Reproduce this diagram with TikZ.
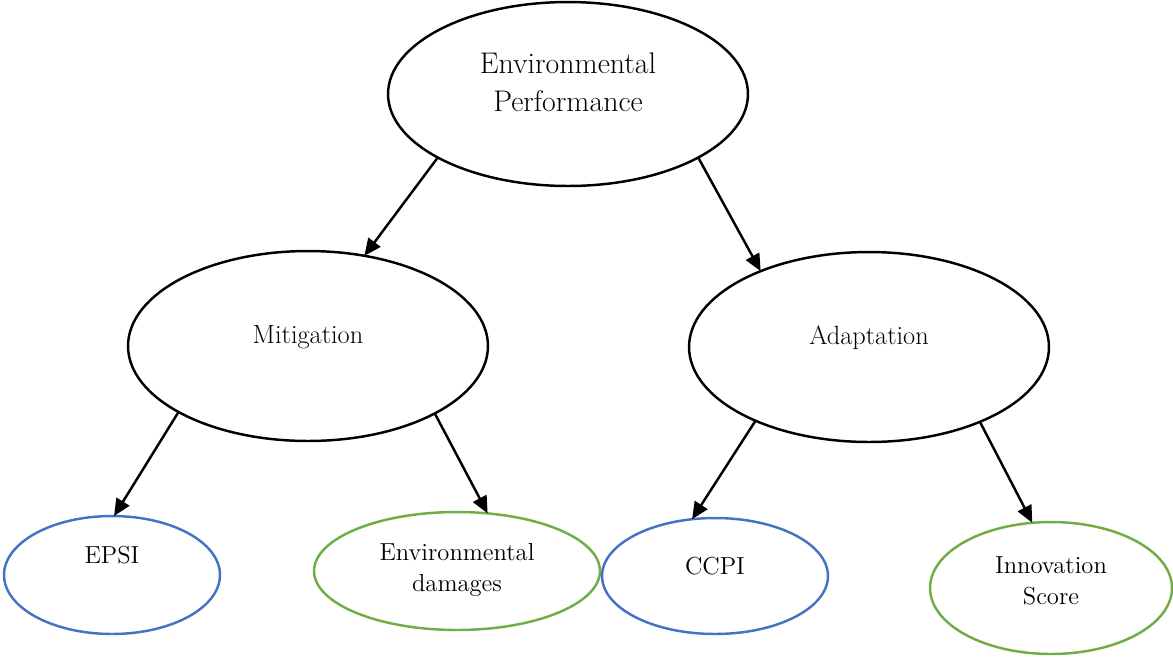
\documentclass[tikz,border=0pt]{standalone}
\usetikzlibrary{shapes.geometric,arrows.meta}
\definecolor{ovalblue}{HTML}{4472C4}
\definecolor{ovalgreen}{HTML}{70AD47}
\begin{document}
\begin{tikzpicture}[x=0.02cm,y=-0.02cm,
  oval/.style={ellipse,draw,line width=1.4pt,inner sep=0pt,outer sep=0pt},
  link/.style={-{Triangle[length=0.34cm,width=0.3cm]},line width=1.4pt}]
\useasboundingbox (0,0) rectangle (1173,657);
% Top
\node (perf) at (568,94) [oval,minimum width=7.2cm,minimum height=3.68cm] {};
\node (perftxt) at (568,82) [align=center,font=\fontsize{17}{21.5}\selectfont] {Environmental\\Performance};
% Middle
\node (miti) at (308,346) [oval,minimum width=7.2cm,minimum height=3.8cm] {};
\node (mititxt) at (308,337) [font=\fontsize{15}{18}\selectfont] {Mitigation};
\node (adap) at (869,347) [oval,minimum width=7.2cm,minimum height=3.8cm] {};
\node (adaptxt) at (869,338) [font=\fontsize{15}{18}\selectfont] {Adaptation};
% Bottom
\node (epsi) at (112,575) [oval,ovalblue,minimum width=4.32cm,minimum height=2.36cm] {};
\node (epsitxt) at (112,555) [font=\fontsize{14}{18}\selectfont] {EPSI};
\node (dam) at (457,571) [oval,ovalgreen,minimum width=5.72cm,minimum height=2.36cm] {};
\node (damtxt) at (457,570) [align=center,font=\fontsize{14}{18}\selectfont] {Environmental\\damages};
\node (ccpi) at (715,576) [oval,ovalblue,minimum width=4.52cm,minimum height=2.32cm] {};
\node (ccpitxt) at (715,566) [font=\fontsize{14}{18}\selectfont] {CCPI};
\node (innov) at (1051,588) [oval,ovalgreen,minimum width=4.84cm,minimum height=2.64cm] {};
\node (innovtxt) at (1051,581) [align=center,font=\fontsize{14}{18}\selectfont] {Innovation\\Score};
% Arrows
\draw[link] (perf.206) -- (miti.58);
\draw[link] (perf.334) -- (adap.145);
\draw[link] (miti.207) -- (epsi.88);
\draw[link] (miti.332) -- (dam.62);
\draw[link] (adap.213) -- (ccpi.112);
\draw[link] (adap.326) -- (innov.106);
\end{tikzpicture}
\end{document}
